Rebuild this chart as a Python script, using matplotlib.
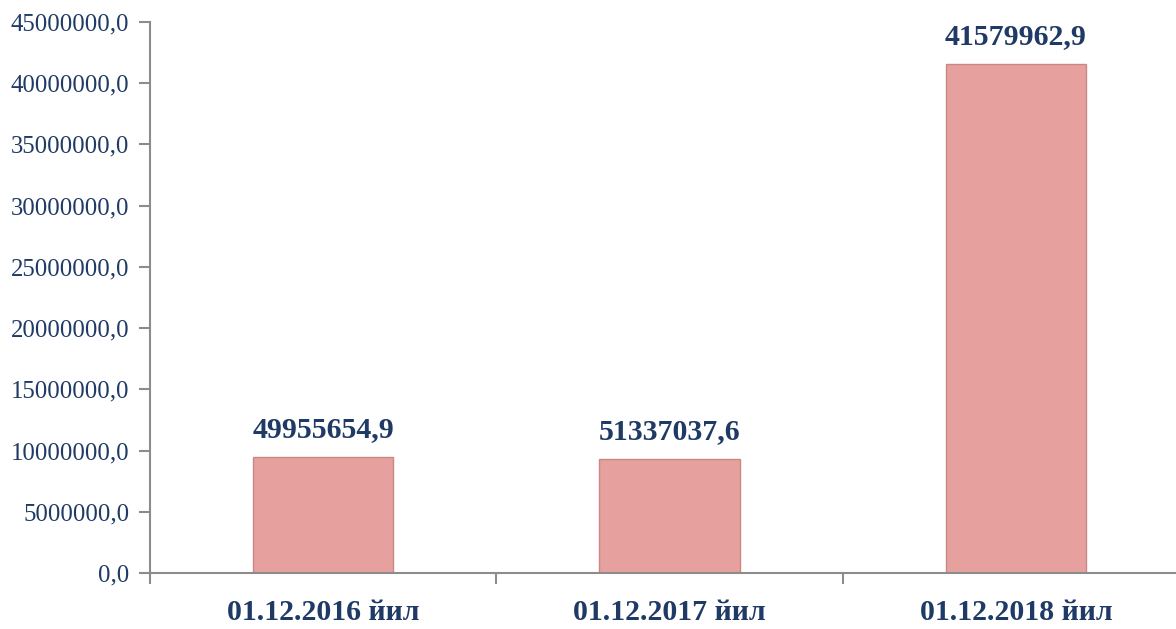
import numpy as np
import matplotlib.pyplot as plt
from matplotlib.ticker import MultipleLocator, FuncFormatter

# Categories and values (bar heights as drawn, labels as printed)
categories = ['01.12.2016 йил', '01.12.2017 йил', '01.12.2018 йил']
heights = [9480000, 9320000, 41579962.9]
value_labels = ['49955654,9', '51337037,6', '41579962,9']

navy = '#1F3A64'
bar_color = '#E6A09E'
axis_color = '#8C8C8C'

plt.rcParams['font.family'] = ['Liberation Serif', 'DejaVu Serif']

fig = plt.figure(figsize=(11.76, 6.29), dpi=100)
ax = fig.add_axes([150 / 1176, 1 - 573 / 629, 1039 / 1176, (573 - 22) / 629])

x = np.arange(len(categories))
bars = ax.bar(x, heights, width=0.405, color=bar_color,
              edgecolor='#C98886', linewidth=1.0, zorder=2)

for rect, txt in zip(bars, value_labels):
    ax.annotate(txt, (rect.get_x() + rect.get_width() / 2, rect.get_height()),
                xytext=(0, 10), textcoords='offset points',
                ha='center', va='bottom', fontsize=21.5, fontweight='bold',
                color=navy)

ax.set_xlim(-0.5, 2.5)
ax.set_ylim(0, 45000000)
ax.yaxis.set_major_locator(MultipleLocator(5000000))
ax.yaxis.set_major_formatter(FuncFormatter(lambda v, p: f'{v:.1f}'.replace('.', ',')))

ax.set_xticks([-0.5, 0.5, 1.5, 2.5])
ax.set_xticklabels([])
ax.set_xticks(x, minor=True)
ax.set_xticklabels(categories, minor=True)
ax.tick_params(axis='x', which='minor', length=0, pad=19,
               labelsize=21.5, labelcolor=navy)
for lbl in ax.get_xticklabels(minor=True):
    lbl.set_fontweight('bold')
ax.tick_params(axis='x', which='major', length=8, width=1.5, color=axis_color)
ax.tick_params(axis='y', length=8, width=1.5, color=axis_color,
               labelsize=17.8, labelcolor=navy, pad=7)

for side in ['top', 'right']:
    ax.spines[side].set_visible(False)
for side in ['left', 'bottom']:
    ax.spines[side].set_color(axis_color)
    ax.spines[side].set_linewidth(1.5)

fig.savefig('out.png', dpi=100)
